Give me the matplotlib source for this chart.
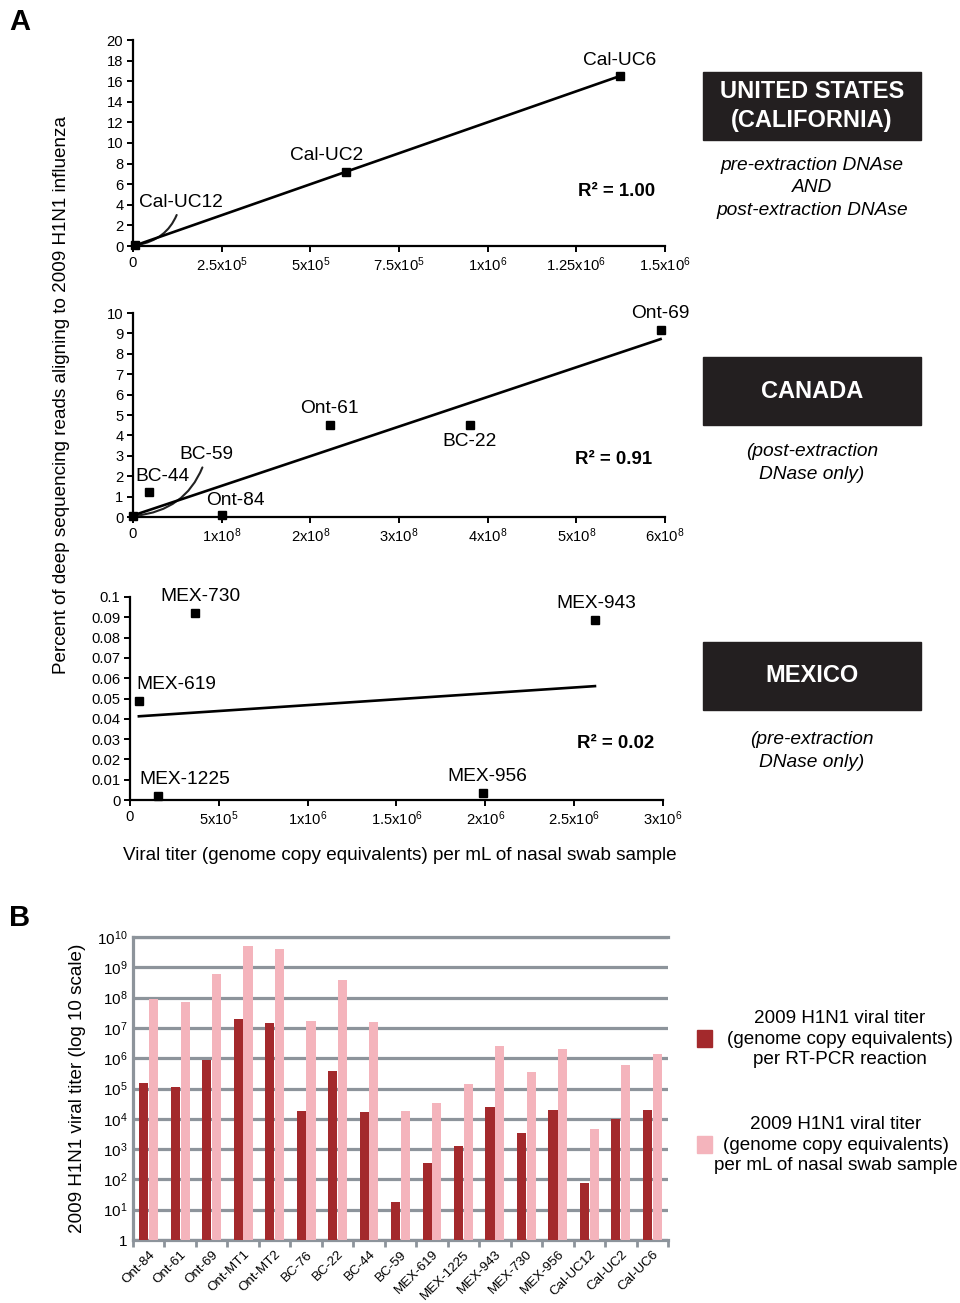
import numpy as np
import matplotlib
matplotlib.use('Agg')
import matplotlib.pyplot as plt
from matplotlib.patches import Rectangle

plt.rcParams['font.family'] = ['Liberation Sans', 'DejaVu Sans']
plt.rcParams['mathtext.fontset'] = 'custom'
plt.rcParams['mathtext.rm'] = 'Liberation Sans'
plt.rcParams['mathtext.it'] = 'Liberation Sans:italic'
plt.rcParams['mathtext.bf'] = 'Liberation Sans:bold'

# # # # # panel A data (titer per mL of swab vs percent of reads) # # # # #
us_names = ['Cal-UC12', 'Cal-UC2', 'Cal-UC6']
us_titer = [4.7e3, 6.0e5, 1.372e6]
us_pct = [0.05, 7.18, 16.5]

ca_names = ['BC-59', 'BC-44', 'Ont-84', 'Ont-61', 'BC-22', 'Ont-69']
ca_titer = [2e4, 1.8e7, 1.0e8, 2.22e8, 3.80e8, 5.95e8]
ca_pct = [0.05, 1.23, 0.08, 4.51, 4.51, 9.18]

mx_names = ['MEX-619', 'MEX-1225', 'MEX-730', 'MEX-956', 'MEX-943']
mx_titer = [5e4, 1.57e5, 3.66e5, 1.986e6, 2.617e6]
mx_pct = [0.0487, 0.0018, 0.0921, 0.0033, 0.0888]

# # # # # panel B data # # # # #
samples = ['Ont-84', 'Ont-61', 'Ont-69', 'Ont-MT1', 'Ont-MT2', 'BC-76', 'BC-22',
           'BC-44', 'BC-59', 'MEX-619', 'MEX-1225', 'MEX-943', 'MEX-730',
           'MEX-956', 'Cal-UC12', 'Cal-UC2', 'Cal-UC6']
titer_rtpcr = [1.5e5, 1.1e5, 9e5, 2e7, 1.45e7, 1.8e4, 3.9e5, 1.7e4, 18,
               340, 1.3e3, 2.5e4, 3.5e3, 2e4, 74, 9.5e3, 2e4]
titer_swab = [9e7, 6.9e7, 6e8, 5.2e9, 4e9, 1.7e7, 3.7e8, 1.6e7, 1.8e4,
              3.2e4, 1.4e5, 2.6e6, 3.5e5, 2e6, 4.7e3, 5.9e5, 1.4e6]
legend_labels = ['2009 H1N1 viral titer\n(genome copy equivalents)\nper RT-PCR reaction',
                 '2009 H1N1 viral titer\n(genome copy equivalents)\nper mL of nasal swab sample']

W, H = 960, 1303
def fx(px):
    return px / W
def fy(py):
    return 1 - py / H

fig = plt.figure(figsize=(9.6, 13.03), dpi=100)

def sci(m, e):
    return r'$\mathregular{%sx10^{%d}}$' % (m, e)

def scatter_panel(box, xs, ys, names, offsets, curved, xlim, xticks, xlabels,
                  ylim, yticks, ylabels):
    ax = fig.add_axes([fx(box[0]), fy(box[3]), fx(box[2] - box[0]),
                       (box[3] - box[1]) / H])
    ax.plot(xs, ys, 's', color='black', ms=6, clip_on=False, zorder=5)
    k, b = np.polyfit(xs, ys, 1)
    xl = np.array([min(xs), max(xs)])
    ax.plot(xl, k * xl + b, color='black', lw=1.9, zorder=4)
    for i, name in enumerate(names):
        if name in curved:
            ax.annotate(name, (xs[i], ys[i]), xytext=offsets[name],
                        textcoords='offset points', ha='center', va='center',
                        fontsize=13.8,
                        arrowprops=dict(arrowstyle='-', lw=1.5, color='#222222',
                                        connectionstyle='arc3,rad=-0.35',
                                        shrinkA=1, shrinkB=2))
        else:
            ax.annotate(name, (xs[i], ys[i]), xytext=offsets[name],
                        textcoords='offset points', ha='center', va='center',
                        fontsize=13.8)
    ax.set_xlim(xlim)
    ax.set_ylim(ylim)
    ax.set_xticks(xticks)
    ax.set_xticklabels(xlabels, fontsize=10.6)
    ax.set_yticks(yticks)
    ax.set_yticklabels(ylabels, fontsize=10.6)
    for s in ['top', 'right']:
        ax.spines[s].set_visible(False)
    for s in ['left', 'bottom']:
        ax.spines[s].set_linewidth(1.6)
    ax.tick_params(direction='out', length=4, width=1.4, pad=3)
    return ax

# offsets of the point labels, in points
us_off = {'Cal-UC12': (33, 31), 'Cal-UC2': (-14, 12), 'Cal-UC6': (0, 11)}
ca_off = {'BC-59': (53, 44), 'BC-44': (10, 11), 'Ont-84': (10, 11),
          'Ont-61': (0, 12), 'BC-22': (0, -12), 'Ont-69': (0, 12)}
mx_off = {'MEX-619': (27, 12), 'MEX-1225': (19, 12), 'MEX-730': (4, 12),
          'MEX-956': (3, 12), 'MEX-943': (1, 12)}

scatter_panel((133, 40, 665, 246), us_titer, us_pct, us_names, us_off, ['Cal-UC12'],
              (0, 1.5e6), [0, 2.5e5, 5e5, 7.5e5, 1e6, 1.25e6, 1.5e6],
              ['0', sci('2.5', 5), sci('5', 5), sci('7.5', 5), sci('1', 6),
               sci('1.25', 6), sci('1.5', 6)],
              (0, 20), list(range(0, 21, 2)), [str(v) for v in range(0, 21, 2)])

scatter_panel((133, 313, 665, 517), ca_titer, ca_pct, ca_names, ca_off, ['BC-59'],
              (0, 6e8), [0, 1e8, 2e8, 3e8, 4e8, 5e8, 6e8],
              ['0'] + [sci(str(m), 8) for m in range(1, 7)],
              (0, 10), list(range(0, 11)), [str(v) for v in range(0, 11)])

scatter_panel((130, 597, 663, 800), mx_titer, mx_pct, mx_names, mx_off, [],
              (0, 3e6), [0, 5e5, 1e6, 1.5e6, 2e6, 2.5e6, 3e6],
              ['0', sci('5', 5), sci('1', 6), sci('1.5', 6), sci('2', 6),
               sci('2.5', 6), sci('3', 6)],
              (0, 0.1), [i / 100 for i in range(0, 11)],
              ['0'] + ['%.2f' % (i / 100) for i in range(1, 10)] + ['0.1'])

# R squared values
fig.text(fx(617), fy(191), 'R² = 1.00', fontsize=13.4, weight='bold', ha='center', va='center')
fig.text(fx(614), fy(460), 'R² = 0.91', fontsize=13.4, weight='bold', ha='center', va='center')
fig.text(fx(616), fy(743), 'R² = 0.02', fontsize=13.4, weight='bold', ha='center', va='center')

fig.text(fx(62), fy(395), 'Percent of deep sequencing reads aligning to 2009 H1N1 influenza',
         rotation=90, fontsize=13.6, ha='center', va='center')
fig.text(fx(400), fy(855), 'Viral titer (genome copy equivalents) per mL of nasal swab sample',
         fontsize=13.6, ha='center', va='center')

# country boxes
boxes = [(72, 140, 'UNITED STATES\n(CALIFORNIA)',
          'pre-extraction DNAse\nAND\npost-extraction DNAse', 188),
         (357, 425, 'CANADA', '(post-extraction\nDNase only)', 463),
         (642, 710, 'MEXICO', '(pre-extraction\nDNase only)', 751)]
for top, bot, title, note, ny in boxes:
    fig.patches.append(Rectangle((fx(703), fy(bot)), fx(921 - 703), (bot - top) / H,
                                 transform=fig.transFigure, color='#231f20'))
    fig.text(fx(812), fy((top + bot) / 2), title, color='white', fontsize=17,
             weight='bold', ha='center', va='center', linespacing=1.28)
    fig.text(fx(812), fy(ny), note, style='italic', fontsize=13.8,
             ha='center', va='center', linespacing=1.42)

fig.text(fx(20), fy(22), 'A', fontsize=21, weight='bold', ha='center', va='center')
fig.text(fx(20), fy(918), 'B', fontsize=21, weight='bold', ha='center', va='center')

# # # # # panel B # # # # #
grey = '#8d949b'
axb = fig.add_axes([fx(133), fy(1240), fx(668 - 133), (1240 - 937) / H])
x = np.arange(len(samples))
b1 = axb.bar(x - 0.155, titer_rtpcr, width=0.29, color='#a3292c', zorder=3)
b2 = axb.bar(x + 0.155, titer_swab, width=0.29, color='#f4b4bc', zorder=3)
axb.set_yscale('log')
axb.set_ylim(1, 1e10)
axb.set_xlim(-0.5, len(samples) - 0.5)
axb.set_yticks([10.0 ** e for e in range(0, 11)])
axb.set_yticklabels(['1'] + [r'$\mathregular{10^{%d}}$' % e for e in range(1, 11)],
                    fontsize=11)
axb.yaxis.set_minor_locator(matplotlib.ticker.NullLocator())
axb.yaxis.grid(True, color=grey, lw=2.3)
axb.axhline(1e10, color=grey, lw=2.3, clip_on=False, zorder=1)
axb.set_axisbelow(True)
axb.set_xticks(x)
axb.set_xticklabels(samples, rotation=45, ha='right', rotation_mode='anchor', fontsize=9.6)
axb.set_xticks(np.arange(-0.5, len(samples)), minor=True)
axb.tick_params(axis='x', which='major', length=0, pad=6)
axb.tick_params(axis='x', which='minor', length=5, width=2, color=grey)
axb.tick_params(axis='y', length=0, pad=4)
for s in ['top', 'right']:
    axb.spines[s].set_visible(False)
for s in ['left', 'bottom']:
    axb.spines[s].set_color(grey)
    axb.spines[s].set_linewidth(2.3)
axb.set_ylabel('2009 H1N1 viral titer (log 10 scale)', fontsize=13.6, labelpad=8)

# legend: colour square plus centred three-line text
for bars, label, ytop, tx in [(b1, legend_labels[0], 1030, 840),
                              (b2, legend_labels[1], 1136, 836)]:
    fig.patches.append(Rectangle((fx(697), fy(ytop + 17)), fx(15), 17 / H,
                                 transform=fig.transFigure,
                                 color=bars.patches[0].get_facecolor()))
    fig.text(fx(tx), fy(ytop + 9), label, fontsize=13.6, ha='center', va='center',
             multialignment='center', linespacing=1.27)

fig.savefig('out.png', dpi=100)
